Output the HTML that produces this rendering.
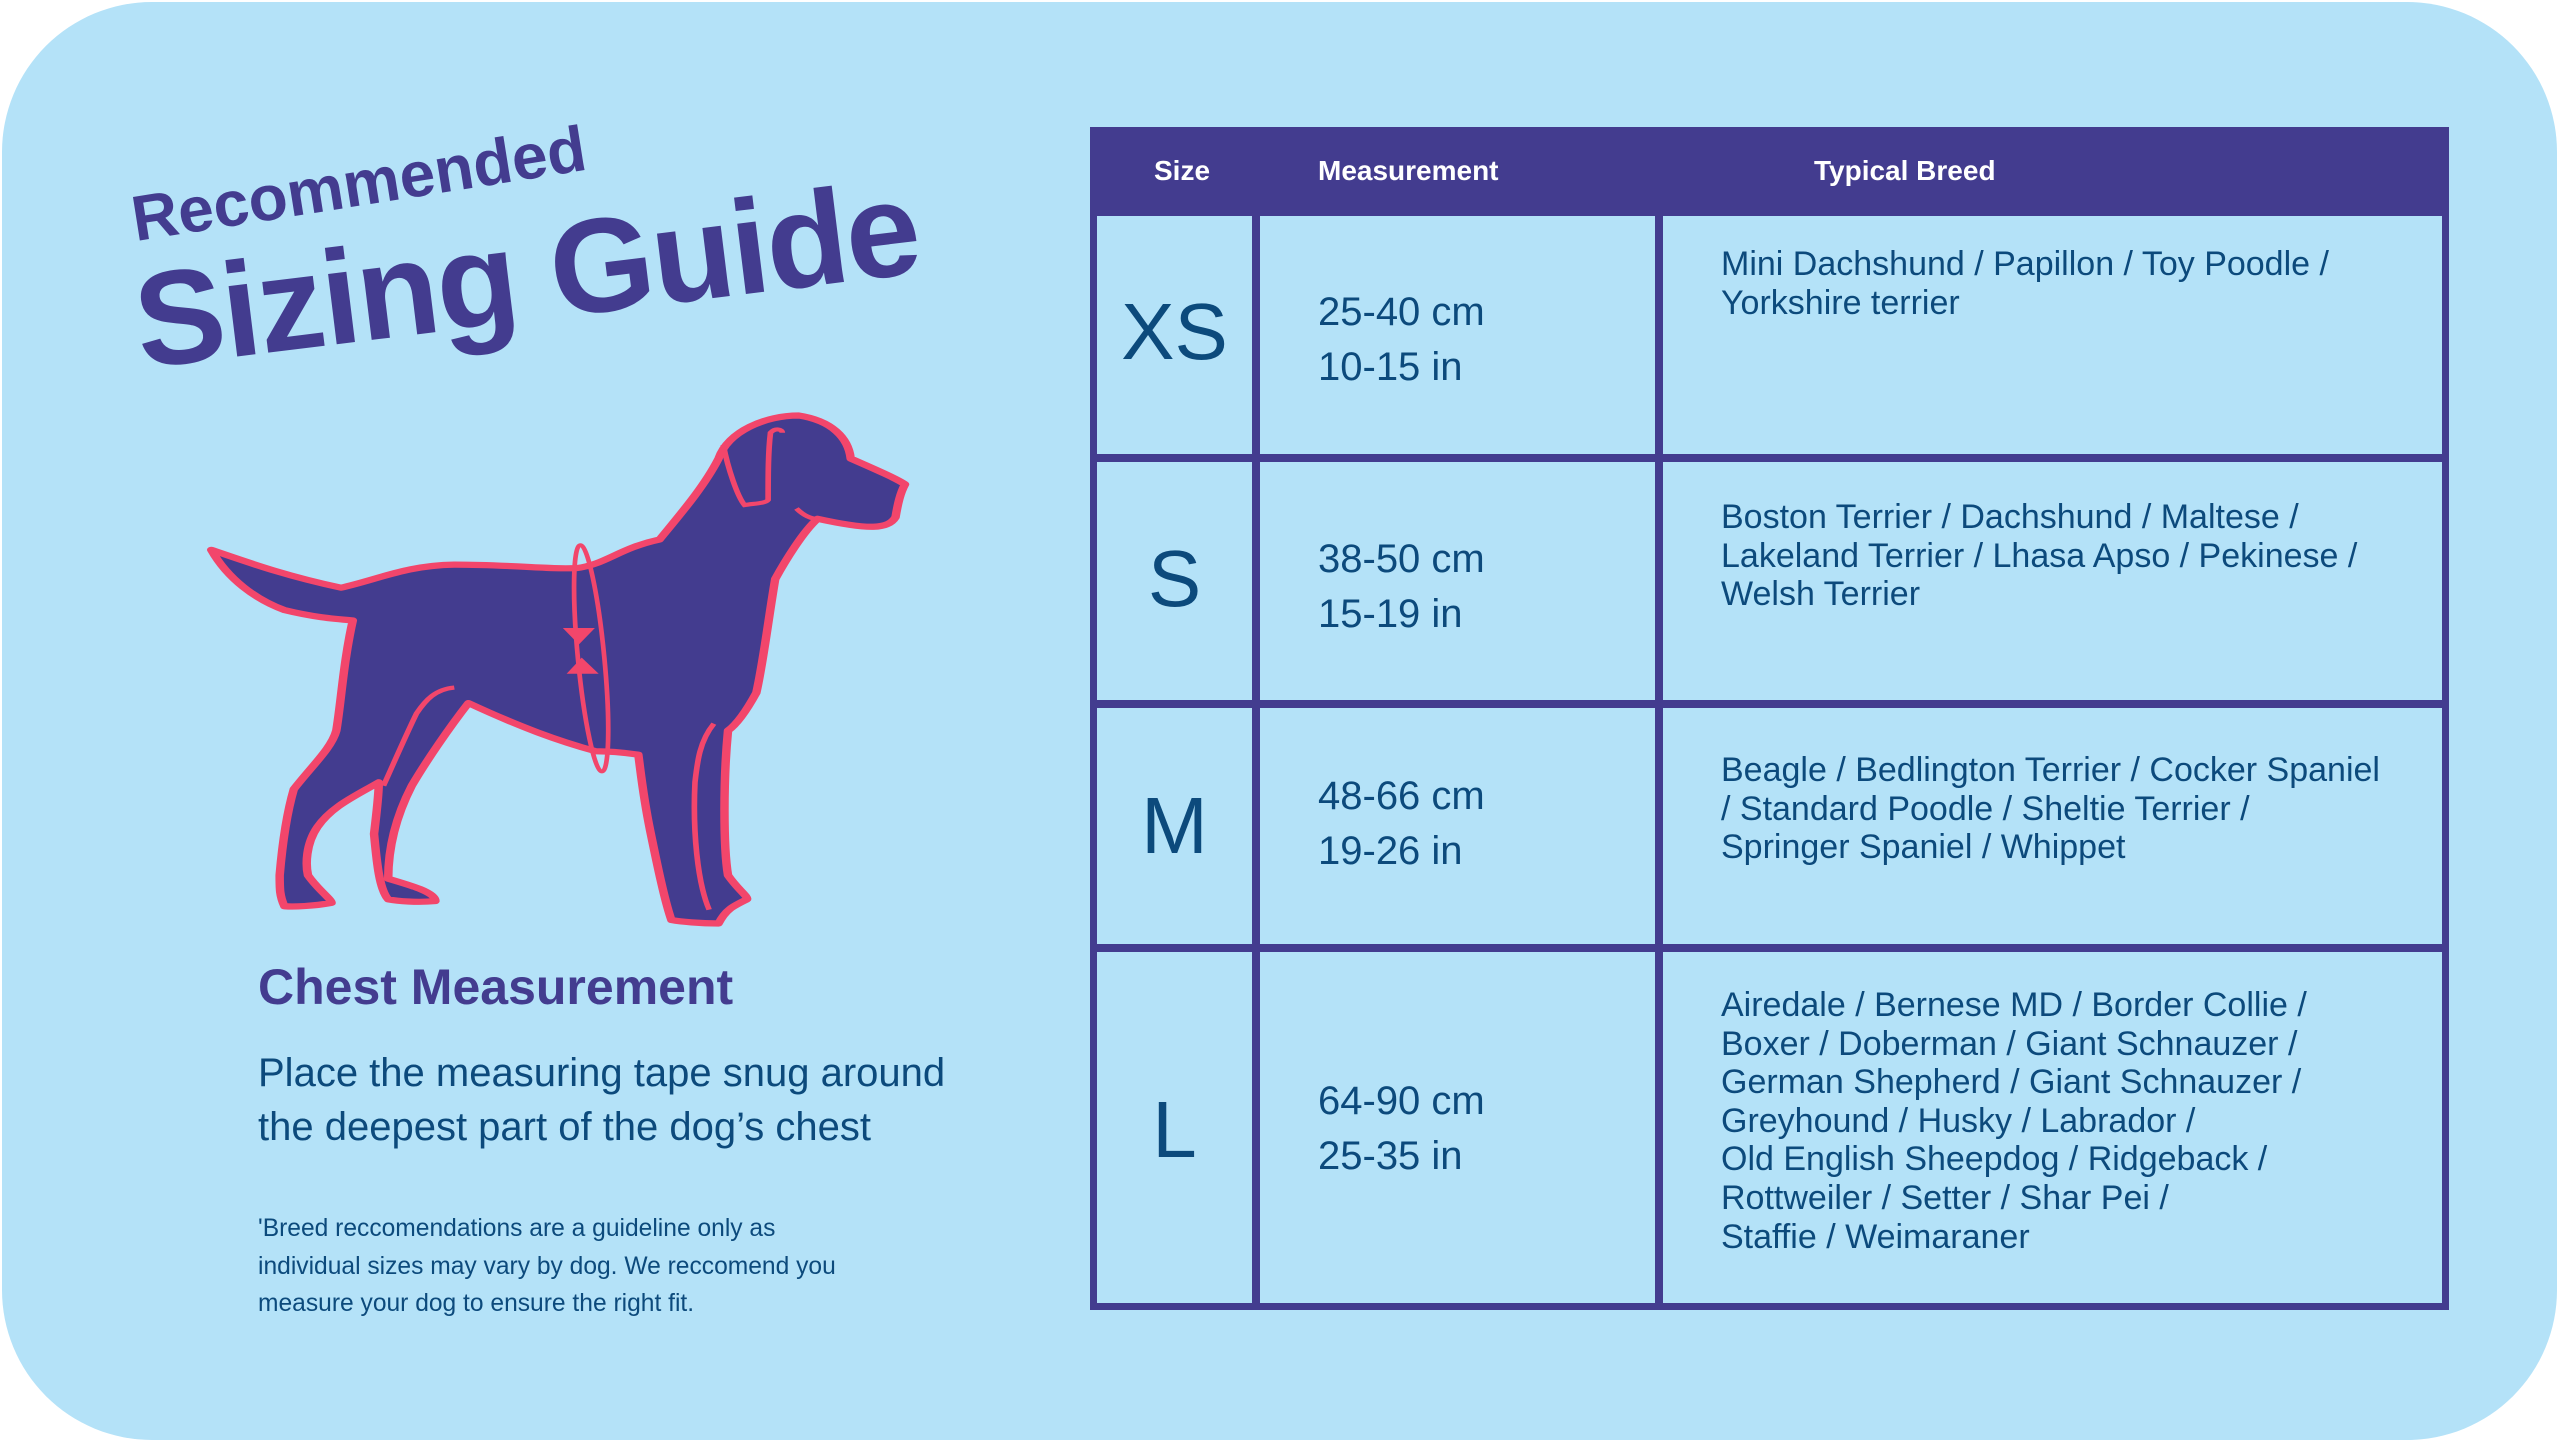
<!DOCTYPE html>
<html><head><meta charset="utf-8"><style>
html,body{margin:0;padding:0;background:#fff;}
body{width:2560px;height:1443px;position:relative;overflow:hidden;font-family:"Liberation Sans",sans-serif;}
.card{position:absolute;left:2px;top:2px;width:2555px;height:1438px;border-radius:150px;background:#b4e2f8;}
.abs{position:absolute;white-space:nowrap;}
.t{color:#0c4a7c;}
</style></head><body>
<div class="card"></div>

<div class="abs" style="left:138px;top:182px;font-size:64px;font-weight:bold;color:#433c8f;transform:rotate(-9deg);transform-origin:left bottom;letter-spacing:0px;">Recommended</div>
<div class="abs" style="left:145px;top:246px;font-size:134px;font-weight:bold;color:#433c8f;transform:rotate(-7deg);transform-origin:left bottom;letter-spacing:-2px;">Sizing Guide</div>

<svg class="abs" style="left:190px;top:400px" width="740" height="540" viewBox="0 0 1568 1568" preserveAspectRatio="none">
<path d="M45,435 C120,470 200,510 320,545 C400,520 460,480 560,478 C680,478 760,492 820,488 C880,478 910,430 995,405 C1040,330 1090,250 1120,170 C1140,90 1220,45 1290,45 C1360,60 1395,110 1400,170 C1450,200 1500,230 1515,245 C1505,270 1500,300 1495,340 C1480,375 1440,378 1330,345 C1300,380 1260,470 1240,520 C1225,640 1215,760 1200,850 C1180,900 1160,940 1140,960 C1130,1100 1130,1300 1140,1380 C1160,1420 1185,1445 1180,1450 C1150,1470 1135,1480 1120,1520 C1080,1520 1040,1515 1020,1510 C1005,1450 990,1350 975,1250 C960,1150 955,1080 950,1030 C900,1020 870,1020 860,1020 C780,990 700,950 590,880 C550,950 500,1050 470,1120 C440,1200 420,1290 420,1390 C470,1410 520,1430 520,1455 C480,1460 440,1455 420,1450 C400,1420 395,1330 390,1260 C395,1200 400,1150 400,1110 C350,1150 300,1180 270,1240 C245,1290 245,1350 250,1380 C270,1420 300,1450 300,1460 C260,1470 220,1472 200,1470 C190,1440 190,1420 190,1380 C195,1300 205,1200 220,1130 C260,1060 300,1010 310,960 C320,880 325,760 345,640 C300,635 260,630 200,610 C140,580 80,520 45,435 Z" fill="#433c8f" stroke="#f2466b" stroke-width="18" stroke-linejoin="round"/>
<path d="M1130,130 C1140,200 1160,280 1175,305 C1200,300 1220,300 1225,290 C1225,220 1225,150 1230,95 C1240,80 1255,85 1255,95" fill="none" stroke="#f2466b" stroke-width="12"/>
<path d="M1285,315 C1300,335 1315,345 1330,345" fill="none" stroke="#f2466b" stroke-width="12"/>
<path d="M560,835 C520,840 500,870 480,910 C455,980 430,1060 410,1120" fill="none" stroke="#f2466b" stroke-width="12"/>
<path d="M1110,940 C1080,990 1075,1050 1070,1110 C1065,1250 1075,1400 1100,1480" fill="none" stroke="#f2466b" stroke-width="12"/>
<ellipse cx="850" cy="750" rx="28" ry="330" fill="none" stroke="#f2466b" stroke-width="10" transform="rotate(-4 850 750)"/>
<path d="M790,662 L858,662 L824,710 Z" fill="#f2466b"/>
<path d="M798,795 L866,795 L830,748 Z" fill="#f2466b"/>
</svg>

<div class="abs" style="left:258px;top:958px;font-size:50px;font-weight:bold;color:#433c8f;">Chest Measurement</div>
<div class="abs t" style="left:258px;top:1046px;font-size:40px;line-height:54px;">Place the measuring tape snug around<br>the deepest part of the dog’s chest</div>
<div class="abs t" style="left:258px;top:1210px;font-size:24.6px;line-height:37.5px;">'Breed reccomendations are a guideline only as<br>individual sizes may vary by dog. We reccomend you<br>measure your dog to ensure the right fit.</div>

<div class="abs" style="left:1090px;top:127px;width:1359px;height:1183px;background:#433c8f;"></div>
<div class="abs" style="left:1097px;top:216px;width:155px;height:238px;background:#b4e2f8"></div>
<div class="abs" style="left:1260px;top:216px;width:395px;height:238px;background:#b4e2f8"></div>
<div class="abs" style="left:1663px;top:216px;width:779px;height:238px;background:#b4e2f8"></div>
<div class="abs" style="left:1097px;top:462px;width:155px;height:238px;background:#b4e2f8"></div>
<div class="abs" style="left:1260px;top:462px;width:395px;height:238px;background:#b4e2f8"></div>
<div class="abs" style="left:1663px;top:462px;width:779px;height:238px;background:#b4e2f8"></div>
<div class="abs" style="left:1097px;top:708px;width:155px;height:236px;background:#b4e2f8"></div>
<div class="abs" style="left:1260px;top:708px;width:395px;height:236px;background:#b4e2f8"></div>
<div class="abs" style="left:1663px;top:708px;width:779px;height:236px;background:#b4e2f8"></div>
<div class="abs" style="left:1097px;top:952px;width:155px;height:351px;background:#b4e2f8"></div>
<div class="abs" style="left:1260px;top:952px;width:395px;height:351px;background:#b4e2f8"></div>
<div class="abs" style="left:1663px;top:952px;width:779px;height:351px;background:#b4e2f8"></div>

<div class="abs" style="left:1154px;top:155px;font-size:28px;font-weight:bold;color:#fff;">Size</div>
<div class="abs" style="left:1318px;top:155px;font-size:28px;font-weight:bold;color:#fff;">Measurement</div>
<div class="abs" style="left:1814px;top:155px;font-size:28px;font-weight:bold;color:#fff;">Typical Breed</div>

<div class="abs t" style="left:1097px;width:155px;text-align:center;top:286px;font-size:80px;">XS</div>
<div class="abs t" style="left:1097px;width:155px;text-align:center;top:533px;font-size:80px;">S</div>
<div class="abs t" style="left:1097px;width:155px;text-align:center;top:780px;font-size:80px;">M</div>
<div class="abs t" style="left:1097px;width:155px;text-align:center;top:1084px;font-size:80px;">L</div>

<div class="abs t" style="left:1318px;top:285px;font-size:40px;line-height:55px;">25-40 cm<br>10-15 in</div>
<div class="abs t" style="left:1318px;top:532px;font-size:40px;line-height:55px;">38-50 cm<br>15-19 in</div>
<div class="abs t" style="left:1318px;top:769px;font-size:40px;line-height:55px;">48-66 cm<br>19-26 in</div>
<div class="abs t" style="left:1318px;top:1074px;font-size:40px;line-height:55px;">64-90 cm<br>25-35 in</div>

<div class="abs t" style="left:1721px;top:245px;font-size:34px;line-height:38.6px;">Mini Dachshund / Papillon / Toy Poodle /<br>Yorkshire terrier</div>
<div class="abs t" style="left:1721px;top:498px;font-size:34px;line-height:38.6px;">Boston Terrier / Dachshund / Maltese /<br>Lakeland Terrier / Lhasa Apso / Pekinese /<br>Welsh Terrier</div>
<div class="abs t" style="left:1721px;top:751px;font-size:34px;line-height:38.6px;">Beagle / Bedlington Terrier / Cocker Spaniel<br>/ Standard Poodle / Sheltie Terrier /<br>Springer Spaniel / Whippet</div>
<div class="abs t" style="left:1721px;top:986px;font-size:34px;line-height:38.6px;">Airedale / Bernese MD / Border Collie /<br>Boxer / Doberman / Giant Schnauzer /<br>German Shepherd / Giant Schnauzer /<br>Greyhound / Husky / Labrador /<br>Old English Sheepdog / Ridgeback /<br>Rottweiler / Setter / Shar Pei /<br>Staffie / Weimaraner</div>
</body></html>
